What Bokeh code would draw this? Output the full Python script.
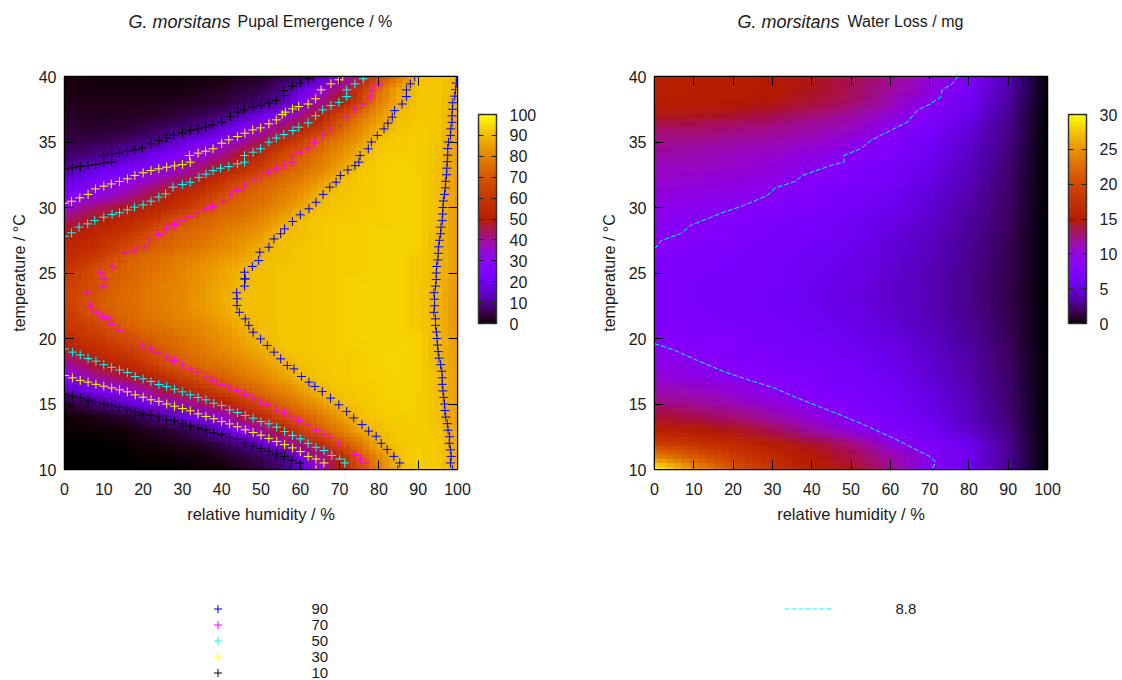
import math
import numpy as np
from bokeh.core.properties import value
from bokeh.embed import file_html
from bokeh.layouts import column, row
from bokeh.models import (ColorBar, FixedTicker, Label, LinearAxis,
                          LinearColorMapper, Range1d)
from bokeh.plotting import figure
from bokeh.resources import INLINE

TITLE_SPECIES = "G. morsitans"
TITLE_LEFT = "Pupal Emergence / %"
TITLE_RIGHT = "Water Loss / mg"
XLABEL = "relative humidity / %"
YLABEL = "temperature / \u00b0C"

# Pupal emergence / %, rows T = 10..40 by 1, columns RH = 0..100 by 5
emergence = [
 [0,0,0,0,0,0,0,0.5,1,2,4,7,16,33,50,67,79,90,93,92,88],
 [0,0,0,0,0.5,0.5,1,1,2,4,6,9,22,40,55,71,82,91,93,92,88],
 [0,0,0,0.5,1,1.5,2,3,6,9,17,31,44,56.5,70,78,89,92,93,92,87],
 [0.5,0.5,1,1,2,3,5,9,16,28,38,51,63,72,79,87,91,92.5,93,91.5,86],
 [1,1.5,2,3.5,6,11,17,25,33.5,46,56,66,72,78,85,90.5,92,93,93,91,85],
 [3,6,10,15,21,29,37,44,51,60,68,74,79,85,90.5,92,93,93.5,93,91,85],
 [14,19,25,31,38,46,52,59,65,71,75,80,85,89.5,91.5,92.5,93,93.5,93,90.5,85],
 [28,35,41,46,51,57,63,68.5,72.5,77,81,85.5,90,91.5,92.5,93,93.5,93.5,93,90.5,85],
 [38,44,50,55,60,67,72,75.5,78,81,84,88,91,92,92.5,93,93.5,94,93,90,84],
 [48,54,58,62,66,71,75,78,81,84,87.5,91,92,92.5,93,93,93.5,94,93,90,84],
 [55,60,63,67,71,74,77,80,83,86,90,91.5,92,92.5,93,93.5,93.5,93.5,93,90,83],
 [60,63,67,72,75,77,80,82,85,88.5,90.5,91.5,92,92.5,93,93.5,93.5,93.5,92.5,89.5,83],
 [62,67,71.5,74.5,77,79,81.5,84,87,90.5,91,91.5,92,92.5,93,93.5,93.5,93.5,92.5,89,83],
 [64,68,72,75,77.5,79.5,82,84.5,87.5,90.5,91,91.5,92,92.5,93,93.5,93.5,93.5,92.5,89,83],
 [62.5,66,70.5,74,77,79.5,81.5,84,87,90,91,91.5,92,92.5,93,93.5,93.5,93.5,92.5,89.5,83.5],
 [61,65.5,70.5,73,76,78,81,83.5,86,89.5,91,91.5,92,92.5,93,93,93.5,93.5,92.5,90,84],
 [57,60,65,72,75,77,79.5,82,84.5,87,90,91,92,92.5,93,93,93.5,93.5,92.5,90,84],
 [54,56,60,65,70,73,76,78.5,81,84,88,91,91.5,92.5,93,93,93.5,93.5,93,90,84],
 [50,53,56.5,60,65,71,74,76.5,79,82,85,90,91,92,93,93,93.5,93.5,93,90,84],
 [43,47,51.5,54.5,58,64,70,73,75.5,78,81.5,86,90.5,92,92.5,93,93,93.5,93,90.5,84],
 [34,40,44,48,52,56,61,67,72,75,78,82,87,91,92,92.5,93,93.5,93,90.5,84],
 [25,29,33,38,43,49,56,61,67,72,75,79,83.5,89,91.5,92.5,93,93.5,93,90.5,84],
 [17,22,26,30,35,40,46,53.5,60,66.5,72,76,80,85,90.5,92,93,93.5,93,90.5,84],
 [10,15,19,23,27,30,36,43,50.5,57,63,71,75,80,86,91.5,93,93.5,93,91,84],
 [7,8,9.5,12.5,17,22,28,34,41,48,56,66,72,77,83,89,92.5,93,93,91,85],
 [5,5,5.5,7,9,12,17,23,30,38,46,56,64,72,79,85,91.5,92.5,93,91.5,85],
 [4,3.5,3.5,4,5,6.5,8,11,17,24,34,43,52,62,73,81,88,91.5,92.5,91.5,86],
 [2.5,2.5,2.5,2.5,3,3.5,4.5,6,8,13,20,30,41,52,65,76,84,91,92,92,87],
 [2,2,2,2,2,2,2.5,3.5,4,5.5,8,13,25,40,50.5,65,79,88,91.5,92,88],
 [1.5,1.5,1.5,1.5,1.5,1.5,1.5,2,2.5,4,5,9,17,30,44,60,76,87,91.5,92,89],
 [1.5,1.5,1,1,1,1,1,1,1.5,2,3,5,7.5,13,27,46,65,78,91,92,90],
]

# Water loss / mg, rows T = 10..40 by 1, columns RH = 0..100 by 10
water_loss = [
 [30,25,21,18,16,14.5,12,9,6,3,0],
 [24,21.5,19,17,15,13.5,11.5,8.8,6,3,0],
 [19,18,17,15.5,14,12.5,9.7,7.9,5.7,3,0],
 [16,15.3,14.5,13.3,11.7,9.9,8.1,6.4,4.6,2.6,0],
 [14,13.4,12.7,11.6,10,8.5,7.2,5.8,4.2,2.4,0],
 [12.5,12,11.2,10,9,8,6.8,5.5,4,2.3,0],
 [11.3,10.8,10.1,9.1,8.3,7.4,6.4,5.2,3.8,2.2,0],
 [10.4,9.8,9,8.4,7.7,7,6,4.9,3.6,2.1,0],
 [9.8,9.2,8.5,7.9,7.3,6.6,5.7,4.7,3.5,2,0],
 [9.1,8.5,8,7.5,6.9,6.2,5.5,4.5,3.4,1.9,0],
 [8.6,8.1,7.6,7.1,6.5,5.9,5.2,4.3,3.2,1.8,0],
 [8.2,7.8,7.3,6.8,6.2,5.6,4.9,4.1,3.1,1.7,0],
 [8,7.5,7,6.5,6,5.3,4.7,3.9,3,1.7,0],
 [7.9,7.4,6.9,6.4,5.9,5.2,4.6,3.8,2.9,1.6,0],
 [7.9,7.4,7,6.5,5.9,5.3,4.6,3.8,2.9,1.6,0],
 [8,7.6,7.1,6.6,6,5.4,4.7,3.9,2.9,1.7,0],
 [8.3,7.8,7.3,6.8,6.2,5.6,4.9,4,3,1.7,0],
 [8.8,8.2,7.6,7,6.4,5.8,5,4.1,3.1,1.7,0],
 [9,8.6,8,7.3,6.7,6,5.2,4.3,3.2,1.8,0],
 [9.3,8.9,8.3,7.6,7,6.2,5.5,4.5,3.3,1.9,0],
 [9.6,9.2,8.9,8.2,7.5,6.7,5.8,4.7,3.5,2,0],
 [10,9.7,9.4,8.9,8.1,7.1,6.2,5,3.7,2,0],
 [10.5,10.2,10,9.5,8.4,7.6,6.6,5.3,3.9,2.2,0],
 [11,10.8,10.5,10,9.1,8.2,7,5.6,4.1,2.3,0],
 [11.5,11.3,11,10.6,9.8,8.9,7.5,6,4.4,2.4,0],
 [12.2,12,11.7,11.3,10.7,9.8,8.1,6.4,4.6,2.6,0],
 [13,12.9,12.6,12.2,11.6,10.8,9.1,7.1,5,2.8,0],
 [14.5,14.3,14,13.4,12.6,11.7,10.1,8.3,5.6,3,0],
 [15.5,15.4,15.1,14.6,13.9,12.9,11.2,9,6.2,3.3,0],
 [15.8,15.7,15.4,15,14.3,13.3,11.8,10,6.8,3.6,0],
 [16,15.8,15.5,15,14.4,13.4,12.1,10.3,7.8,4,0],
]

# Contour points: relative humidity, temperature
rh_10 = [0,2,4,6,7.9,10,12,14,16,18,20,22,24,26,28,30,32,34,36,38,40,42,44,46,48,50,52,54,56,57.9,59.8,57.6,
         0,2,4,6,7.9,10,12,10,12,14,16,17.9,19.8,22,24,26,27.8,30,32,34,36,37.8,40,42.2,44.1,45.8,48,50,52,53.9,55.8,55.8,58,60,62,63.3]
t_10 = [15.7,15.6,15.47,15.3,15.17,15,14.9,14.76,14.6,14.4,14.25,14.15,14,13.8,13.7,13.5,13.3,13.15,13,12.8,12.67,12.47,12.3,12,11.8,11.6,11.4,11.2,11,10.7,10.5,10,
        32.95,33.03,33.13,33.2,33.28,33.41,33.46,33.97,34.1,34.15,34.3,34.4,34.53,34.86,35.11,35.32,35.5,35.7,35.88,36,36.13,36.31,36.51,36.95,37.28,37.45,37.66,37.78,37.96,38.17,38.55,38.93,39.26,39.49,39.82,40]
rh_30 = [0,2,4,6,8,10,12,14,16,18,20,22,24,26,28,30,32,34,36,38,40,42,44,46,48,50,52,54,56,58,60,62,64,66,64,
         0,1.8,3.9,6,7.9,10,11.9,14,16,17.9,20,22,24,26,28,30,32,31.8,34,35.9,37.8,40,41.8,44,45.9,47.9,49.9,52,53.9,55.4,56.2,58,59.6,62,63.9,65.3,67.8,69.8,70.8]
t_30 = [17.18,17,16.8,16.67,16.5,16.36,16.23,16.08,15.93,15.7,15.52,15.32,15.2,15,14.83,14.66,14.48,14.25,14.05,13.87,13.66,13.48,13.26,13.03,12.82,12.62,12.37,12.14,11.9,11.65,11.37,11,10.8,10.5,10,
        30.33,30.48,30.74,31,31.42,31.63,31.8,31.98,32.19,32.44,32.65,32.82,32.95,33.08,33.18,33.28,33.46,33.97,34.15,34.3,34.48,34.91,35.17,35.42,35.67,35.93,36.08,36.39,36.69,37.1,37.28,37.53,37.71,37.9,38.3,38.98,39.44,39.75,40]
rh_50 = [0,2,4,6,8,10,12,14,16,18,20,22,24,26,28,30,32,34,36,38,40,42,44,46,48,50,52,54,56,58,60,62,64,66,68,70,71.3,70,
         0,1.8,3.7,5.9,7.7,10,12.1,14,16,17.8,20,22,24,25.7,27.6,30,32,34.2,36,37.8,39.7,41.8,44,45.8,45.8,48,49.9,52,53.9,55.8,58.1,59.6,62,63.9,65.7,67.8,69.8,71.8,71.8,73.9,76,76]
t_50 = [19.2,18.96,18.75,18.47,18.27,18,17.8,17.6,17.4,17.1,16.92,16.72,16.49,16.34,16.13,15.93,15.7,15.5,15.32,15.06,14.89,14.55,14.35,14.12,13.92,13.66,13.49,13.23,12.9,12.6,12.34,12,11.7,11.45,11.07,10.8,10.5,10,
        27.81,28.07,28.5,28.75,29,29.26,29.47,29.6,29.82,30.03,30.2,30.48,30.8,31.04,31.55,31.76,31.93,32.3,32.55,32.82,33,33.13,33.33,33.46,33.97,34.22,34.48,34.99,35.3,35.57,35.88,36.13,36.46,37,37.45,37.78,38.03,38.47,38.98,39.44,39.82,40]
rh_70 = [9.2,10,9.8,7.9,5.9,7.9,6.6,8,9.75,11.1,12,14,16,17.6,19.8,22,23.7,26,28,30,31.9,33.8,36,37.8,39.9,41.8,43.9,45.9,47.9,49.9,51.6,54,56,57.7,59.6,61.8,64,66,67.5,69.8,72,74,75.3,76.6,75.7,
         12.1,14,15.5,17.9,20.2,21.5,24,26,28,29.8,31.8,33.8,36,37.6,40.1,42.2,43.9,45.8,48.2,50,52,53.9,56,57.9,57.9,59.9,61.9,63.6,65.7,67.8,70,71.9,73.8,76,77.9,78.3,80,81.7]
t_70 = [25,24.55,24,23.74,23.49,22.98,22.49,22,21.68,21.5,21.07,20.6,20.23,19.92,19.47,19.2,18.96,18.57,18.32,17.96,17.68,17.43,17.05,16.8,16.49,16.28,16.03,15.73,15.47,15.17,14.96,14.55,14.33,14,13.74,13.4,12.98,12.72,12.47,12,11.53,11.15,10.8,10.5,10,
        25.45,25.88,26.54,26.77,26.97,27.56,27.94,28.37,28.7,29,29.31,29.57,29.9,30.08,30.46,30.92,31.3,31.68,32.11,32.44,32.7,32.95,33.2,33.46,33.97,34.22,34.48,34.99,35.5,35.95,36.26,36.9,37.48,37.9,38.42,38.98,39.4,40]
rh_90 = [89.1,88,87,87,85.9,84,83.4,82.3,81.3,79.6,78.1,77.3,75.2,74.9,73.9,72.1,70.2,69.1,67.5,65.8,64,62.2,60,58,56,55,53.3,52,49.7,49.4,47.8,45.8,46,45.8,45.8,43.8,43.9,43.9,44.5,46,46.9,48,49.9,51.6,53.3,55,56.7,58.4,60.3,62.2,63.7,65.6,67.7,69.8,71.8,73.6,75.7,77.4,79.3,80.6,82.1,83.8,85.3,84.8,
         99.7,99.7,99.5,99.3,98.8,98.7,98.6,98.6,98.3,98.2,97.7,97.5,97.5,97.4,97.3,97.2,97,96.9,96.7,96.4,96.3,96.2,96.1,95.8,95.7,95.4,95.2,95.1,95,94.7,94.6,94.6,94.4,94,94.15,94.15,94,94.4,94.4,94.65,94.8,94.9,95.1,95.3,95.7,96,96.1,96.1,96.3,96.5,96.7,96.8,97,97.4,97.6,98,97.9,98.2,98.4,98.2,98.7]
t_90 = [40,39.44,38.98,38.47,37.9,37.4,36.9,36.44,36,35.5,35,34.48,33.97,33.46,33.2,32.87,32.44,31.93,31.55,31,30.4,29.9,29.44,28.93,28.37,28,27.6,26.97,26.59,25.95,25.5,25.06,24.55,24.55,24,23.49,23.03,22.52,22,21.5,21,20.48,19.97,19.47,18.96,18.45,17.94,17.68,17.1,16.67,16.34,15.95,15.45,14.94,14.43,13.94,13.43,12.93,12.54,12,11.53,11,10.5,10,
        40,39.5,39,38.5,38,37.5,37,36.5,36,35.5,35,34.5,34,33.5,33,32.5,32,31.5,31,30.5,30,29.5,29,28.5,28,27.5,27,26.5,26,25.5,25,24.5,24,23.5,23,22.5,22,21.5,21,20.5,20,19.5,19,18.5,18,17.5,17,16.5,16,15.5,15,14.5,14,13.5,13,12.5,12,11.5,11,10.5,10]
rh_88_upper = [0,0.25,1.7,6.6,9.2,17.6,22.7,28.7,30.8,35.9,37.6,44.8,48.2,48.2,52.4,55,57.5,62.2,64.3,66.8,70.2,72.8,73.2,75.8,77.2]
t_88_upper = [26.85,26.92,27.48,27.99,28.63,29.64,30.15,30.92,31.5,32,32.44,33.2,33.46,33.97,34.48,35.1,35.5,36.2,36.5,37.4,37.9,38.42,38.98,39.44,40]
rh_88_lower = [0,4.9,10.9,17.6,23.6,30.4,36.3,42.2,47.3,54.1,61.7,66,70,71.5,71,70.5]
t_88_lower = [19.6,19.13,18.32,17.48,16.87,16.23,15.47,14.76,14.17,13.31,12.26,11.6,11,10.6,10.2,10]

LEVELS = ["90", "70", "50", "30", "10"]
LEVEL_COLOURS = ["#0000ff", "#ff00ff", "#00ffff", "#ffff00", "#000000"]
LINE_LEVEL = "8.8"
BAR_TICKS_LEFT = list(range(0, 101, 10))
BAR_TICKS_RIGHT = list(range(0, 31, 5))
X_TICKS = list(range(0, 101, 10))
Y_TICKS = list(range(10, 41, 5))
FONT = "Liberation Sans"
INK = "#1a1a1a"
LEFT_W, RIGHT_W = 590, 532
HEAD_H, MAIN_H, FOOT_H = 36, 544, 100
# key rows and marks sit on pixel centres so their one-pixel strokes keep full colour
KEY_FIRST_ROW, KEY_ROW_STEP = 71.5, 16

# gnuplot's default pm3d palette (rgbformulae 7,5,15)
palette = []
for i in range(256):
    f = i / 255
    palette.append("#%02x%02x%02x" % (round(255 * math.sqrt(f)), round(255 * f ** 3),
                                      round(255 * max(0.0, math.sin(2 * math.pi * f)))))


def strip(width, height):
    """A frameless figure, one unit to a pixel, that only carries titles or a key."""
    p = figure(width=width, height=height, output_backend="svg", toolbar_location=None, tools="",
               x_range=Range1d(0, width), y_range=Range1d(0, height), x_axis_location=None,
               y_axis_location=None, min_border=0, outline_line_color=None, background_fill_color=None,
               border_fill_color="white")
    p.grid.visible = False
    return p


def panel(width, height, grid, x_step, high, bar_ticks, x_shifts):
    p = figure(width=width, height=height, output_backend="svg", toolbar_location=None,
               x_range=Range1d(0, 100), y_range=Range1d(10, 40), tools="",
               min_border_left=64, min_border_top=76 - HEAD_H, min_border_bottom=height - (76 - HEAD_H) - 393,
               min_border_right=width - 64 - 393, background_fill_color=None, border_fill_color="white")
    p.grid.visible = False
    p.outline_line_color = "#000000"
    p.outline_line_width = 1.5
    mapper = LinearColorMapper(palette=palette, low=0, high=high)
    arr = np.array(grid, dtype=float)
    # the same table is painted several times, half-transparent and shifted by a fraction of a cell,
    # so that the coarse cells blend on screen; no value is added to the table
    k = 0
    for sx in x_shifts:
        for sy in (-1 / 3, 0, 1 / 3):
            k += 1
            p.image(image=[arr], x=-x_step / 2 + sx * x_step, y=9.5 + sy, dw=100 + x_step, dh=31,
                    color_mapper=mapper, global_alpha=1 / k)
    for ax, ticks in ((p.xaxis[0], X_TICKS), (p.yaxis[0], Y_TICKS)):
        ax.ticker = FixedTicker(ticks=ticks)
        ax.minor_tick_line_color = None
        ax.major_tick_in = 9
        ax.major_tick_out = 0
        ax.axis_line_color = "#000000"
        ax.major_tick_line_color = "#000000"
        ax.major_label_text_font = FONT
        ax.major_label_text_font_size = "16px"
        ax.major_label_text_color = INK
        ax.axis_label_text_font = FONT
        ax.axis_label_text_font_style = "normal"
        ax.axis_label_text_color = INK
    p.xaxis[0].axis_label = XLABEL
    p.yaxis[0].axis_label = YLABEL
    p.xaxis[0].axis_label_text_font_size = "16.5px"
    p.yaxis[0].axis_label_text_font_size = "16px"
    p.xaxis[0].major_label_standoff = 13
    p.yaxis[0].major_label_standoff = 8
    p.xaxis[0].axis_label_standoff = 7
    p.yaxis[0].axis_label_standoff = 8
    for side, ticks in (("above", X_TICKS), ("right", Y_TICKS)):
        mirror = LinearAxis(ticker=FixedTicker(ticks=ticks), major_label_text_color=None,
                            major_label_standoff=0, minor_tick_line_color=None, major_tick_in=9,
                            major_tick_out=0, axis_line_color="#000000", major_tick_line_color="#000000")
        p.add_layout(mirror, side)
    bar = ColorBar(color_mapper=mapper, ticker=FixedTicker(ticks=bar_ticks), width=18, height=209,
                   location=(414, 146), margin=0, padding=0, bar_line_color="#333333", bar_line_width=1.5,
                   major_tick_in=18, major_tick_out=0, major_tick_line_color="#222222", major_tick_line_dash="5 8",
                   minor_tick_line_color=None, major_label_text_font=FONT, major_label_text_font_size="16px",
                   major_label_text_color=INK, label_standoff=13, background_fill_color=None,
                   border_line_color=None)
    p.add_layout(bar, "center")
    return p


def heading(width, x_a, x_b, text_b):
    h = strip(width, HEAD_H)
    h.add_layout(Label(x=x_a, y=HEAD_H - 21, x_units="screen", y_units="screen", text=TITLE_SPECIES,
                       text_font=FONT, text_font_style="italic", text_font_size="18px", text_color=INK,
                       text_baseline="middle"))
    h.add_layout(Label(x=x_b, y=HEAD_H - 21, x_units="screen", y_units="screen", text=text_b,
                       text_font=FONT, text_font_size="16px", text_color=INK, text_baseline="middle"))
    return h


p1 = panel(LEFT_W, MAIN_H, emergence, 5, 100, BAR_TICKS_LEFT, (-1 / 3, 0, 1 / 3))
p2 = panel(RIGHT_W, MAIN_H, water_loss, 10, 30, BAR_TICKS_RIGHT, (-2 / 5, -1 / 5, 0, 1 / 5, 2 / 5))
h1 = heading(LEFT_W, 128, 237, TITLE_LEFT)
h2 = heading(RIGHT_W, 147, 257, TITLE_RIGHT)
f1 = strip(LEFT_W, FOOT_H)
f2 = strip(RIGHT_W, FOOT_H)

for colour, xs, ys in zip(LEVEL_COLOURS, (rh_90, rh_70, rh_50, rh_30, rh_10), (t_90, t_70, t_50, t_30, t_10)):
    p1.scatter(xs, ys, marker="cross", size=9, line_color=colour, line_width=1)

# keys: marks and labels set out row by row in the one-to-a-pixel strips below the panels
key_rows = [KEY_FIRST_ROW - i * KEY_ROW_STEP for i in range(len(LEVELS))]
for colour, y in zip(LEVEL_COLOURS, key_rows):
    f1.scatter([217.5], [y], marker="cross", size=8, line_color=colour, line_width=1)
f1.text([311] * len(LEVELS), key_rows, text=LEVELS, text_font=value(FONT), text_font_size="15px",
        text_color=INK, text_baseline="middle")

p2.line(rh_88_upper, t_88_upper, line_color="#00ffff", line_width=1, line_dash="5 2")
p2.line(rh_88_lower, t_88_lower, line_color="#00ffff", line_width=1, line_dash="5 2")
f2.line([194, 241], [KEY_FIRST_ROW, KEY_FIRST_ROW], line_color="#00ffff", line_width=1, line_dash="5 2")
f2.text([305], [KEY_FIRST_ROW], text=[LINE_LEVEL], text_font=value(FONT), text_font_size="15px",
        text_color=INK, text_baseline="middle")

page = column(row(h1, h2), row(p1, p2), row(f1, f2))
open("out.html", "w").write(file_html(page, INLINE))
